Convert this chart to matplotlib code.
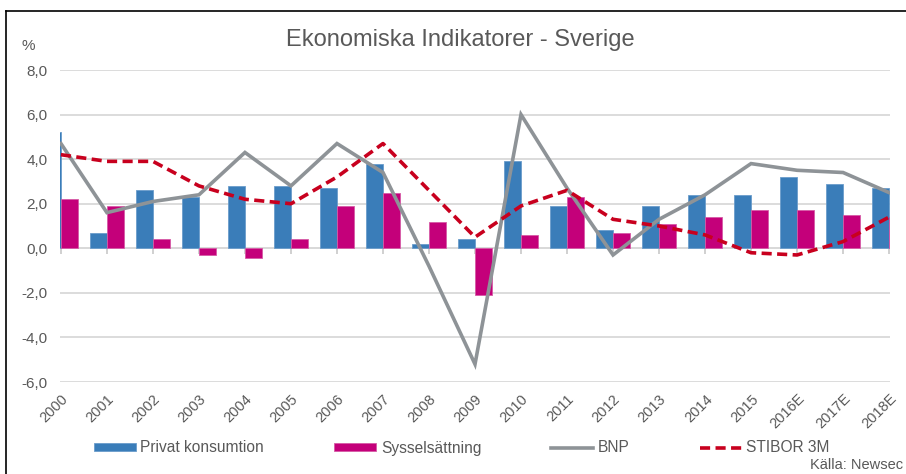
import matplotlib
matplotlib.use("Agg")
import matplotlib.pyplot as plt
from matplotlib.lines import Line2D
import numpy as np

years = ["2000", "2001", "2002", "2003", "2004", "2005", "2006", "2007", "2008",
         "2009", "2010", "2011", "2012", "2013", "2014", "2015", "2016E", "2017E", "2018E"]
privat = [5.2, 0.7, 2.6, 2.3, 2.8, 2.8, 2.7, 3.8, 0.2, 0.4, 3.9, 1.9, 0.8, 1.9, 2.4, 2.4, 3.2, 2.9, 2.7]
syssel = [2.2, 1.9, 0.4, -0.3, -0.45, 0.4, 1.9, 2.5, 1.2, -2.1, 0.6, 2.3, 0.7, 1.1, 1.4, 1.7, 1.7, 1.5, 1.4]
bnp = [4.7, 1.6, 2.1, 2.4, 4.3, 2.8, 4.7, 3.4, -0.8, -5.2, 6.0, 2.7, -0.3, 1.3, 2.4, 3.8, 3.5, 3.4, 2.5]
stibor = [4.2, 3.9, 3.9, 2.8, 2.2, 2.0, 3.2, 4.7, 2.6, 0.5, 1.9, 2.6, 1.3, 1.0, 0.6, -0.2, -0.3, 0.3, 1.4]
yticks = [-6, -4, -2, 0, 2, 4, 6, 8]

FONT = ["Liberation Sans", "DejaVu Sans"]
plt.rcParams["font.family"] = FONT
TXT = "#595959"
BLUE = "#3A7DB9"
PINK = "#C4007A"
GRAY = "#8E9397"
RED = "#C8001E"
GRID = "#D9D9D9"

W, H = 906, 474
fig = plt.figure(figsize=(W / 100, H / 100), dpi=100)
ax = fig.add_axes([60 / W, 1 - 382 / H, 830 / W, 312 / H])

x = np.arange(len(years))
bw = 0.37
b1 = ax.bar(x - bw, privat, width=bw, align="edge", color=BLUE, edgecolor="#6A9CCB",
            linewidth=0.6, label="Privat konsumtion", zorder=2)
b2 = ax.bar(x, syssel, width=bw, align="edge", color=PINK, edgecolor="#D65AA6",
            linewidth=0.6, label="Sysselsättning", zorder=2)
l1, = ax.plot(x, bnp, color=GRAY, lw=2.6, label="BNP", zorder=3, solid_joinstyle="miter")
l2, = ax.plot(x, stibor, color=RED, lw=2.6, linestyle=(0, (2.8, 1.5)), label="STIBOR 3M", zorder=4)

ax.set_xlim(-0.02, len(years) - 1 + 0.02)
ax.set_ylim(-6, 8)
ax.set_yticks(yticks)
ax.set_yticklabels([f"{v:.1f}".replace(".", ",") for v in yticks], fontsize=11, color=TXT)
ax.tick_params(axis="y", length=0, pad=9)
ax.grid(axis="y", color=GRID, lw=1.3, zorder=0)
ax.set_axisbelow(True)
for s in ax.spines.values():
    s.set_visible(False)

ax.set_xticks(x)
ax.set_xticklabels(years, rotation=45, ha="right", va="top", rotation_mode="anchor",
                   fontsize=10.5, color=TXT)
ax.tick_params(axis="x", length=0, pad=7)

# zero axis with category ticks
ax.axhline(0, color=GRID, lw=1.3, zorder=1)
sec = ax.secondary_xaxis(6 / 14)
sec.set_xticks(x)
sec.set_xticklabels([])
sec.tick_params(axis="x", direction="out", length=4, width=1.2, color="#C8C8C8")
sec.spines["bottom"].set_visible(False)
sec.spines["top"].set_visible(False)

fig.text(460 / W, 1 - 40 / H, "Ekonomiska Indikatorer - Sverige", ha="center", va="center",
         fontsize=17, color=TXT)
fig.text(28 / W, 1 - 46 / H, "%", ha="center", va="center", fontsize=11, color=TXT)
fig.text(903 / W, 1 - 465 / H, "Källa: Newsec", ha="right", va="center", fontsize=10.5, color=TXT)

handles = [b1, b2, l1, l2]
labels = [h.get_label() for h in handles]
fig.legend(handles, labels, loc="center left", bbox_to_anchor=(86 / W, 1 - 448 / H),
           ncol=4, frameon=False, fontsize=11.2, handlelength=2.7, handleheight=0.5,
           handletextpad=0.3, columnspacing=4.5, borderpad=0, labelcolor=TXT)

# outer frame (left & top edges visible)
fig.add_artist(Line2D([5.5 / W, 5.5 / W], [0, 1 - 10.5 / H], transform=fig.transFigure,
                      color="black", lw=1.2))
fig.add_artist(Line2D([5.5 / W, 1], [1 - 10.5 / H, 1 - 10.5 / H], transform=fig.transFigure,
                      color="black", lw=1.2))

fig.savefig("out.png", dpi=100)
